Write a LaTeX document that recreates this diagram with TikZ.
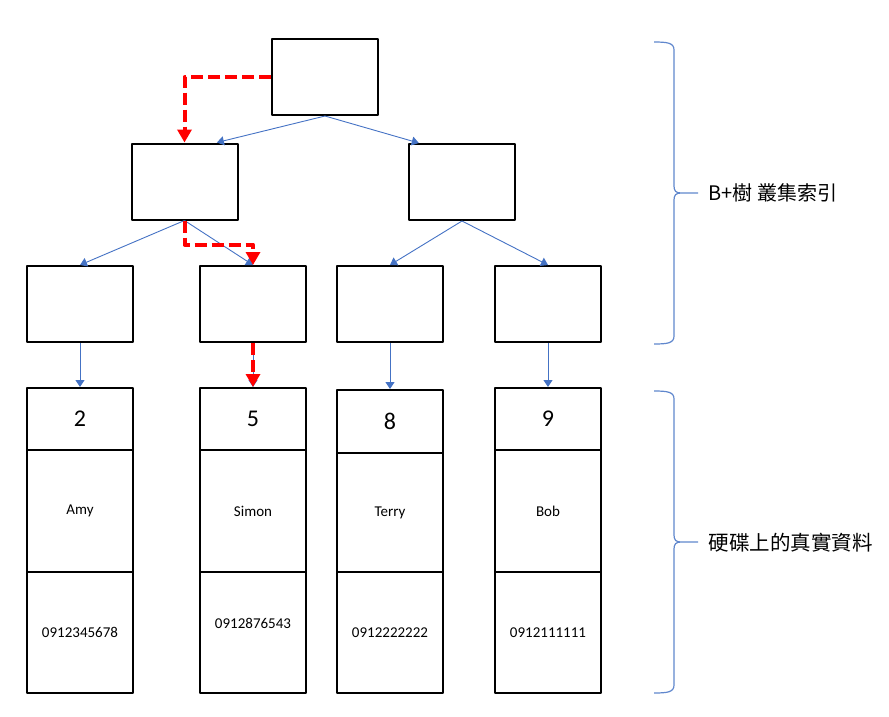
\documentclass[tikz,border=0pt]{standalone}
\usepackage{fontspec}
\setmainfont{Carlito}
\newfontfamily\cjk{Noto Sans CJK TC}
\usetikzlibrary{arrows.meta,calc}
\definecolor{linkblue}{HTML}{4472C4}
\definecolor{pathred}{HTML}{FF0000}
\begin{document}
\begin{tikzpicture}[x=1pt,y=-1pt,line join=round,
	box/.style={draw,line width=2pt,minimum width=106pt,minimum height=76pt,inner sep=0pt},
	cell/.style={draw,line width=2pt,minimum width=106pt,inner sep=0pt},
	link/.style={draw=linkblue,line width=0.9pt,-{Triangle[width=9pt,length=7pt]}},
	redpath/.style={draw=pathred,line width=4pt,dash pattern=on 12pt off 5pt,-{Triangle[width=14pt,length=13pt]}},
	brace/.style={draw=linkblue!85,line width=1.2pt}]
	\useasboundingbox (0,0) rectangle (889,716);
	% tree
	\node[box] (root) at (325,77) {};
	\node[box] (l2a) at (184.5,181.5) {};
	\node[box] (l2b) at (462,182) {};
	\node[box] (l3a) at (80,304) {};
	\node[box] (l3b) at (253,304) {};
	\node[box] (l3c) at (390,304) {};
	\node[box] (l3d) at (548,304) {};
	% rows on disk
	\foreach \c/\x/\t/\m/\k/\n/\p/\r in {1/80/388/450/2/Amy/0912345678/0,2/253/388/450/5/Simon/0912876543/9,3/390/390/453/8/Terry/0912222222/0,4/548/388/450/9/Bob/0912111111/0}{
		\pgfmathsetmacro\hk{\m-\t}
		\pgfmathsetmacro\hn{572-\m}
		\node[cell,minimum height=\hk pt,font=\fontsize{24}{28}\selectfont] (key\c) at (\x,{(\t+\m)/2}) {\k};
		\node[cell,minimum height=\hn pt,font=\fontsize{15}{18}\selectfont] (name\c) at (\x,{(\m+572)/2}) {\n};
		\node[cell,minimum height=121pt,font=\fontsize{15}{18}\selectfont,label={[font=\fontsize{15}{18}\selectfont,yshift=\r pt]center:\p}] (phone\c) at (\x,632.5) {};
	}
	% blue links
	\draw[link] (root.south) -- ($(l2a.north west)!0.8!(l2a.north east)$);
	\draw[link] (root.south) -- ($(l2b.north west)!0.1!(l2b.north east)$);
	\draw[link] (l2a.south) -- (l3a.north);
	\draw[link] (l2a.south) -- (l3b.north);
	\draw[link] (l2b.south) -- (l3c.north);
	\draw[link] (l2b.south) -- (l3d.north);
	\draw[link] (l3a.south) -- (key1.north);
	\draw[link] (l3b.south) -- (key2.north);
	\draw[link] (l3c.south) -- (key3.north);
	\draw[link] (l3d.south) -- (key4.north);
	% search path
	\draw[redpath] (root.west) -| (l2a.north);
	\draw[redpath] (l2a.south) -- ++(0,24) -| (l3b.north);
	\draw[redpath] (l3b.south) -- (key2.north);
	% braces
	\draw[brace] (654,42) .. controls (668,42) and (674,43) .. (674,50) -- (674,186) .. controls (674,191) and (676,193) .. (681,193) -- (698,193)
		(681,193) .. controls (676,193) and (674,195) .. (674,200) -- (674,336) .. controls (674,343) and (668,344) .. (654,344);
	\draw[brace] (654,391) .. controls (668,391) and (674,392) .. (674,399) -- (674,535) .. controls (674,540) and (676,542) .. (681,542) -- (698,542)
		(681,542) .. controls (676,542) and (674,544) .. (674,549) -- (674,685) .. controls (674,692) and (668,693) .. (654,693);
	\node[anchor=west,font=\cjk\fontsize{20}{24}\selectfont] (treelabel) at (705,193) {B+樹 叢集索引};
	\node[anchor=west,font=\cjk\fontsize{20.5}{24}\selectfont] (disklabel) at (705,543) {硬碟上的真實資料};
\end{tikzpicture}
\end{document}
